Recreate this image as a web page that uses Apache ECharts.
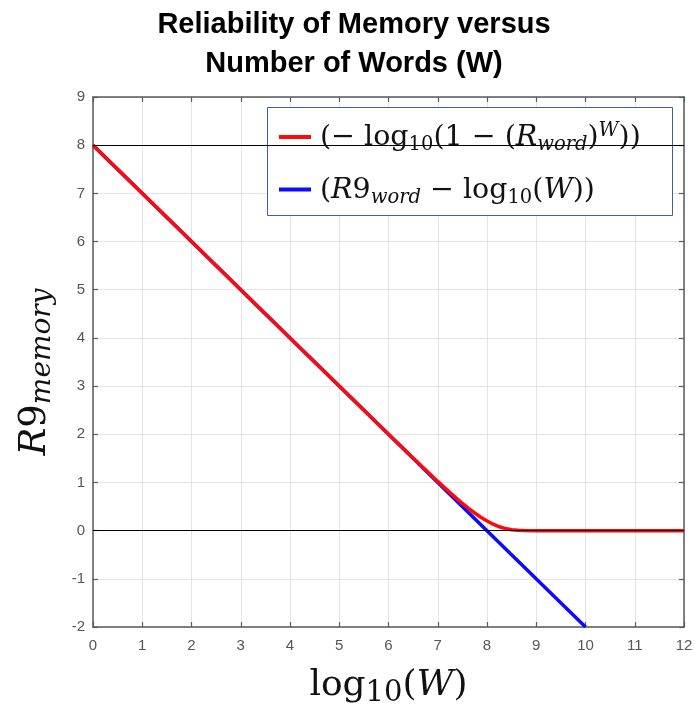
<!DOCTYPE html>
<html>
<head>
<meta charset="utf-8">
<script src="https://cdn.jsdelivr.net/npm/echarts@6/dist/echarts.min.js"></script>
<style>
html,body{margin:0;padding:0;background:#fff;}
#chart{width:695px;height:709px;}
</style>
</head>
<body>
<div id="chart"></div>
<script>
// ---- data ----
var titleLines = ['Reliability of Memory versus', 'Number of Words (W)'];
var xTicks = [0, 12, 1];     // min, max, interval
var yTicks = [-2, 9, 1];
var refLevels = [8, 0];      // black horizontal reference lines

// exact reliability curve: -log10(1 - R_word^W)
var redX = [0, 1, 2, 3, 4, 5, 6, 6.5, 7, 7.125, 7.25, 7.375, 7.5, 7.625, 7.75, 7.875, 8, 8.125, 8.25, 8.375, 8.5, 8.625, 8.75, 9, 10, 11, 12];
var redY = [8, 7, 6, 5, 4, 3, 2.002, 1.507, 1.022, 0.903, 0.788, 0.676, 0.567, 0.463, 0.366, 0.278, 0.199, 0.133, 0.080, 0.043, 0.019, 0.006, 0.002, 0, 0, 0, 0];

// approximation: R9_word - log10(W)
var blueX = [0, 2, 4, 6, 8, 10];
var blueY = [8, 6, 4, 2, 0, -2];

var redName = '(−log10(1 − (Rword)^W))';
var blueName = '(R9word − log10(W))';

function pairs(xs, ys) { return xs.map(function (x, i) { return [x, ys[i]]; }); }

var mathFont = 'DejaVu Serif';
var tickFont = 'Liberation Sans';
var frameColor = '#5a5a5a';

var chart = echarts.init(document.getElementById('chart'), null, {renderer: 'canvas'});

var legendRich = {
  t:  {fontFamily: mathFont, fontSize: 28.5, lineHeight: 34, color: '#111', verticalAlign: 'middle'},
  i:  {fontFamily: mathFont, fontSize: 28.5, lineHeight: 34, color: '#111', fontStyle: 'italic', verticalAlign: 'middle'},
  s:  {fontFamily: mathFont, fontSize: 19.5, lineHeight: 18, color: '#111', verticalAlign: 'bottom'},
  si: {fontFamily: mathFont, fontSize: 19.5, lineHeight: 18, color: '#111', fontStyle: 'italic', verticalAlign: 'bottom'},
  p:  {fontFamily: mathFont, fontSize: 19.5, lineHeight: 18, color: '#111', fontStyle: 'italic', verticalAlign: 'top'}
};

var option = {
  animation: false,
  backgroundColor: '#fff',
  title: {
    text: titleLines.join('\n'),
    left: 354,
    textAlign: 'center',
    top: 5,
    padding: 0,
    textStyle: {fontFamily: 'Liberation Sans', fontWeight: 'bold', fontSize: 29, lineHeight: 39, color: '#000'}
  },
  grid: {left: 93, right: 11, top: 97, bottom: 82, containLabel: false, outerBoundsMode: 'none'},
  graphic: {
    elements: [{
      type: 'rect', z: 5,
      shape: {x: 267.5, y: 107.5, width: 405, height: 108},
      style: {fill: '#fff', stroke: '#3f5f9e', lineWidth: 1}
    }]
  },
  legend: {
    data: [redName, blueName],
    orient: 'vertical',
    left: 279,
    top: 121,
    padding: 0,
    itemGap: 21,
    itemWidth: 32,
    itemHeight: 4,
    icon: 'rect',
    z: 10,
    textStyle: {padding: [2, 0, 0, 4], rich: legendRich},
    formatter: function (name) {
      if (name === redName) {
        return '{t|(− log}{s|10}{t|(1 − (}{i|R}{si|word}{t|)}{p|W}{t|))}';
      }
      return '{t|(}{i|R}{t|9}{si|word}{t| − log}{s|10}{t|(}{i|W}{t|))}';
    }
  },
  xAxis: [{
    type: 'value', min: xTicks[0], max: xTicks[1], interval: xTicks[2],
    position: 'bottom',
    axisLine: {show: true, onZero: false, lineStyle: {color: frameColor, width: 1.5}},
    axisTick: {show: true, inside: true, length: 5, lineStyle: {color: frameColor, width: 1.2}},
    axisLabel: {fontFamily: tickFont, fontSize: 15, color: '#555', margin: 11},
    splitLine: {show: true, lineStyle: {color: '#e4e4e4', width: 1}},
    name: '{a|log}{s|10}{a|(}{i|W}{a|)}',
    nameLocation: 'middle',
    nameGap: 37,
    nameTextStyle: {
      rich: {
        a: {fontFamily: mathFont, fontSize: 36, lineHeight: 44, color: '#111', verticalAlign: 'middle'},
        i: {fontFamily: mathFont, fontSize: 36, lineHeight: 44, color: '#111', fontStyle: 'italic', verticalAlign: 'middle'},
        s: {fontFamily: mathFont, fontSize: 29, lineHeight: 30, color: '#111', verticalAlign: 'bottom'}
      }
    }
  }, {
    type: 'value', min: xTicks[0], max: xTicks[1], interval: xTicks[2],
    position: 'top',
    axisLine: {show: true, onZero: false, lineStyle: {color: frameColor, width: 1.5}},
    axisTick: {show: true, inside: true, length: 5, lineStyle: {color: frameColor, width: 1.2}},
    axisLabel: {show: false},
    splitLine: {show: false}
  }],
  yAxis: [{
    type: 'value', min: yTicks[0], max: yTicks[1], interval: yTicks[2],
    position: 'left',
    axisLine: {show: true, onZero: false, lineStyle: {color: frameColor, width: 1.5}},
    axisTick: {show: true, inside: true, length: 5, lineStyle: {color: frameColor, width: 1.2}},
    axisLabel: {fontFamily: tickFont, fontSize: 15, color: '#555', margin: 8},
    splitLine: {show: true, lineStyle: {color: '#e4e4e4', width: 1}},
    name: '{i|R}{a|9}{s|memory}',
    nameLocation: 'middle',
    nameRotate: 90,
    nameGap: 36,
    nameTextStyle: {
      padding: [0, 20, 0, 0],
      rich: {
        a: {fontFamily: mathFont, fontSize: 37, lineHeight: 44, color: '#111', verticalAlign: 'middle'},
        i: {fontFamily: mathFont, fontSize: 37, lineHeight: 44, color: '#111', fontStyle: 'italic', verticalAlign: 'middle'},
        s: {fontFamily: mathFont, fontSize: 28, lineHeight: 30, color: '#111', fontStyle: 'italic', verticalAlign: 'bottom'}
      }
    }
  }, {
    type: 'value', min: yTicks[0], max: yTicks[1], interval: yTicks[2],
    position: 'right',
    axisLine: {show: true, onZero: false, lineStyle: {color: frameColor, width: 1.5}},
    axisTick: {show: true, inside: true, length: 5, lineStyle: {color: frameColor, width: 1.2}},
    axisLabel: {show: false},
    splitLine: {show: false}
  }],
  series: [{
    name: 'reference',
    type: 'line',
    data: [],
    z: 1,
    markLine: {
      silent: true,
      symbol: ['none', 'none'],
      label: {show: false},
      lineStyle: {color: '#000', width: 1, type: 'solid'},
      data: refLevels.map(function (v) { return {yAxis: v}; })
    }
  }, {
    name: blueName,
    type: 'line',
    data: pairs(blueX, blueY),
    showSymbol: false,
    symbol: 'none',
    z: 3,
    lineStyle: {color: '#0b0bff', width: 3.5},
    itemStyle: {color: '#0b0bff'}
  }, {
    name: redName,
    type: 'line',
    data: pairs(redX, redY),
    showSymbol: false,
    symbol: 'none',
    z: 4,
    lineStyle: {color: '#ff0a0a', width: 3.5},
    itemStyle: {color: '#ff0a0a'}
  }]
};
chart.setOption(option);
</script>
</body>
</html>
